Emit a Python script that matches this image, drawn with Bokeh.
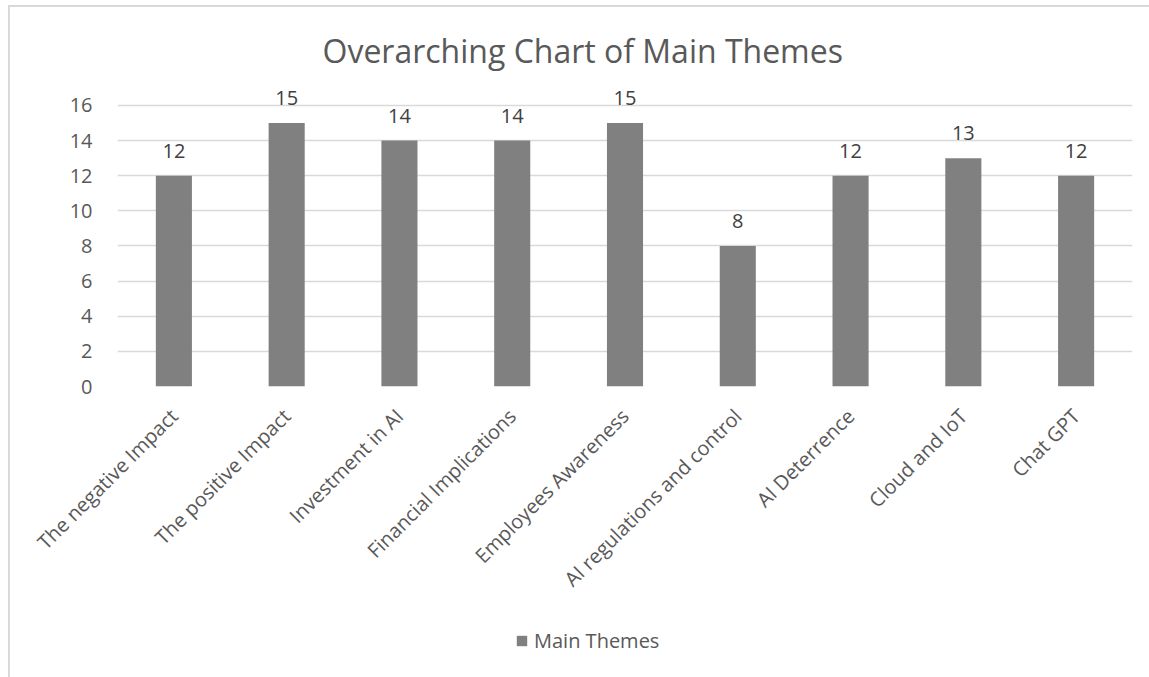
import math

from bokeh.plotting import figure
from bokeh.layouts import column
from bokeh.models import ColumnDataSource, FixedTicker, Legend, LegendItem, Range1d
from bokeh.core.properties import value
from bokeh.embed import file_html
from bokeh.resources import INLINE

# Chart content
title_text = "Overarching Chart of Main Themes"
series_name = "Main Themes"
themes = [
    "The negative Impact",
    "The positive Impact",
    "Investment in AI",
    "Financial Implications",
    "Employees Awareness",
    "AI regulations and control",
    "AI Deterrence",
    "Cloud and IoT",
    "Chat GPT",
]
counts = [12, 15, 14, 14, 15, 8, 12, 13, 12]
y_ticks = [0, 2, 4, 6, 8, 10, 12, 14, 16]

FONT = "Open Sans"
BAR = "#808080"
GRID = "#d9d9d9"
TEXT = "#595959"
LABEL_SIZE = "20px"

src = ColumnDataSource(dict(
    theme=themes,
    count=counts,
    label=[str(c) for c in counts],
))

# Main chart
p = figure(
    x_range=themes,
    y_range=(0, 17.48),
    width=1139,
    height=620,
    output_backend="svg",
    toolbar_location=None,
    min_border_left=107,
    min_border_right=17,
    min_border_top=72,
    min_border_bottom=241,
)
p.background_fill_color = "white"
p.border_fill_color = "white"
p.outline_line_color = None

p.title.text = title_text
p.title.align = "left"
p.title.offset = 205
p.title.text_font = FONT
p.title.text_font_size = "32px"
p.title.text_font_style = "normal"
p.title.text_color = TEXT
p.title.standoff = 15

p.xgrid.grid_line_color = None
p.ygrid.ticker = FixedTicker(ticks=y_ticks)
p.ygrid.grid_line_color = GRID
p.ygrid.grid_line_width = 1.5

p.yaxis.ticker = FixedTicker(ticks=y_ticks)
p.yaxis.axis_line_color = None
p.yaxis.major_tick_line_color = None
p.yaxis.minor_tick_line_color = None
p.yaxis.major_label_text_font = FONT
p.yaxis.major_label_text_font_size = LABEL_SIZE
p.yaxis.major_label_text_color = TEXT
p.yaxis.major_label_standoff = 19

p.xaxis.axis_line_color = None
p.xaxis.major_tick_line_color = None
p.xaxis.major_label_orientation = math.pi / 4
p.xaxis.major_label_text_font = FONT
p.xaxis.major_label_text_font_size = LABEL_SIZE
p.xaxis.major_label_text_color = TEXT
p.xaxis.major_label_standoff = 20

bars = p.vbar(x="theme", top="count", width=0.32, source=src,
              fill_color=BAR, line_color=None)
p.text(x="theme", y="count", text="label", source=src,
       text_align="center", text_baseline="bottom", y_offset=-18,
       text_font=value(FONT), text_font_size=LABEL_SIZE, text_color="#404040")

# Legend strip under the chart; its key glyph shares the bar styling,
# with the y window set above the data so only the legend shows.
lp = figure(
    width=1139,
    height=50,
    x_range=themes,
    y_range=Range1d(1000, 1001),
    output_backend="svg",
    toolbar_location=None,
    x_axis_type=None,
    y_axis_type=None,
    min_border=0,
)
lp.outline_line_color = None
lp.xgrid.grid_line_color = None
lp.ygrid.grid_line_color = None
key = lp.vbar(x="theme", top="count", width=0.32, source=src,
              fill_color=BAR, line_color=None)

legend = Legend(
    items=[LegendItem(label=series_name, renderers=[key])],
    location=(398, 23),
    orientation="horizontal",
    padding=0,
    margin=0,
    spacing=0,
    glyph_width=13,
    glyph_height=13,
    label_standoff=6,
    label_text_font=FONT,
    label_text_font_size=LABEL_SIZE,
    label_text_color=TEXT,
    border_line_color=None,
    background_fill_alpha=0,
)
lp.add_layout(legend, "center")

layout = column(p, lp, spacing=0)
layout.styles = {
    "margin-left": "8px",
    "margin-top": "5px",
    "border-left": "2px solid #d9d9d9",
    "border-top": "2px solid #d9d9d9",
}

open("out.html", "w").write(file_html(layout, INLINE))
